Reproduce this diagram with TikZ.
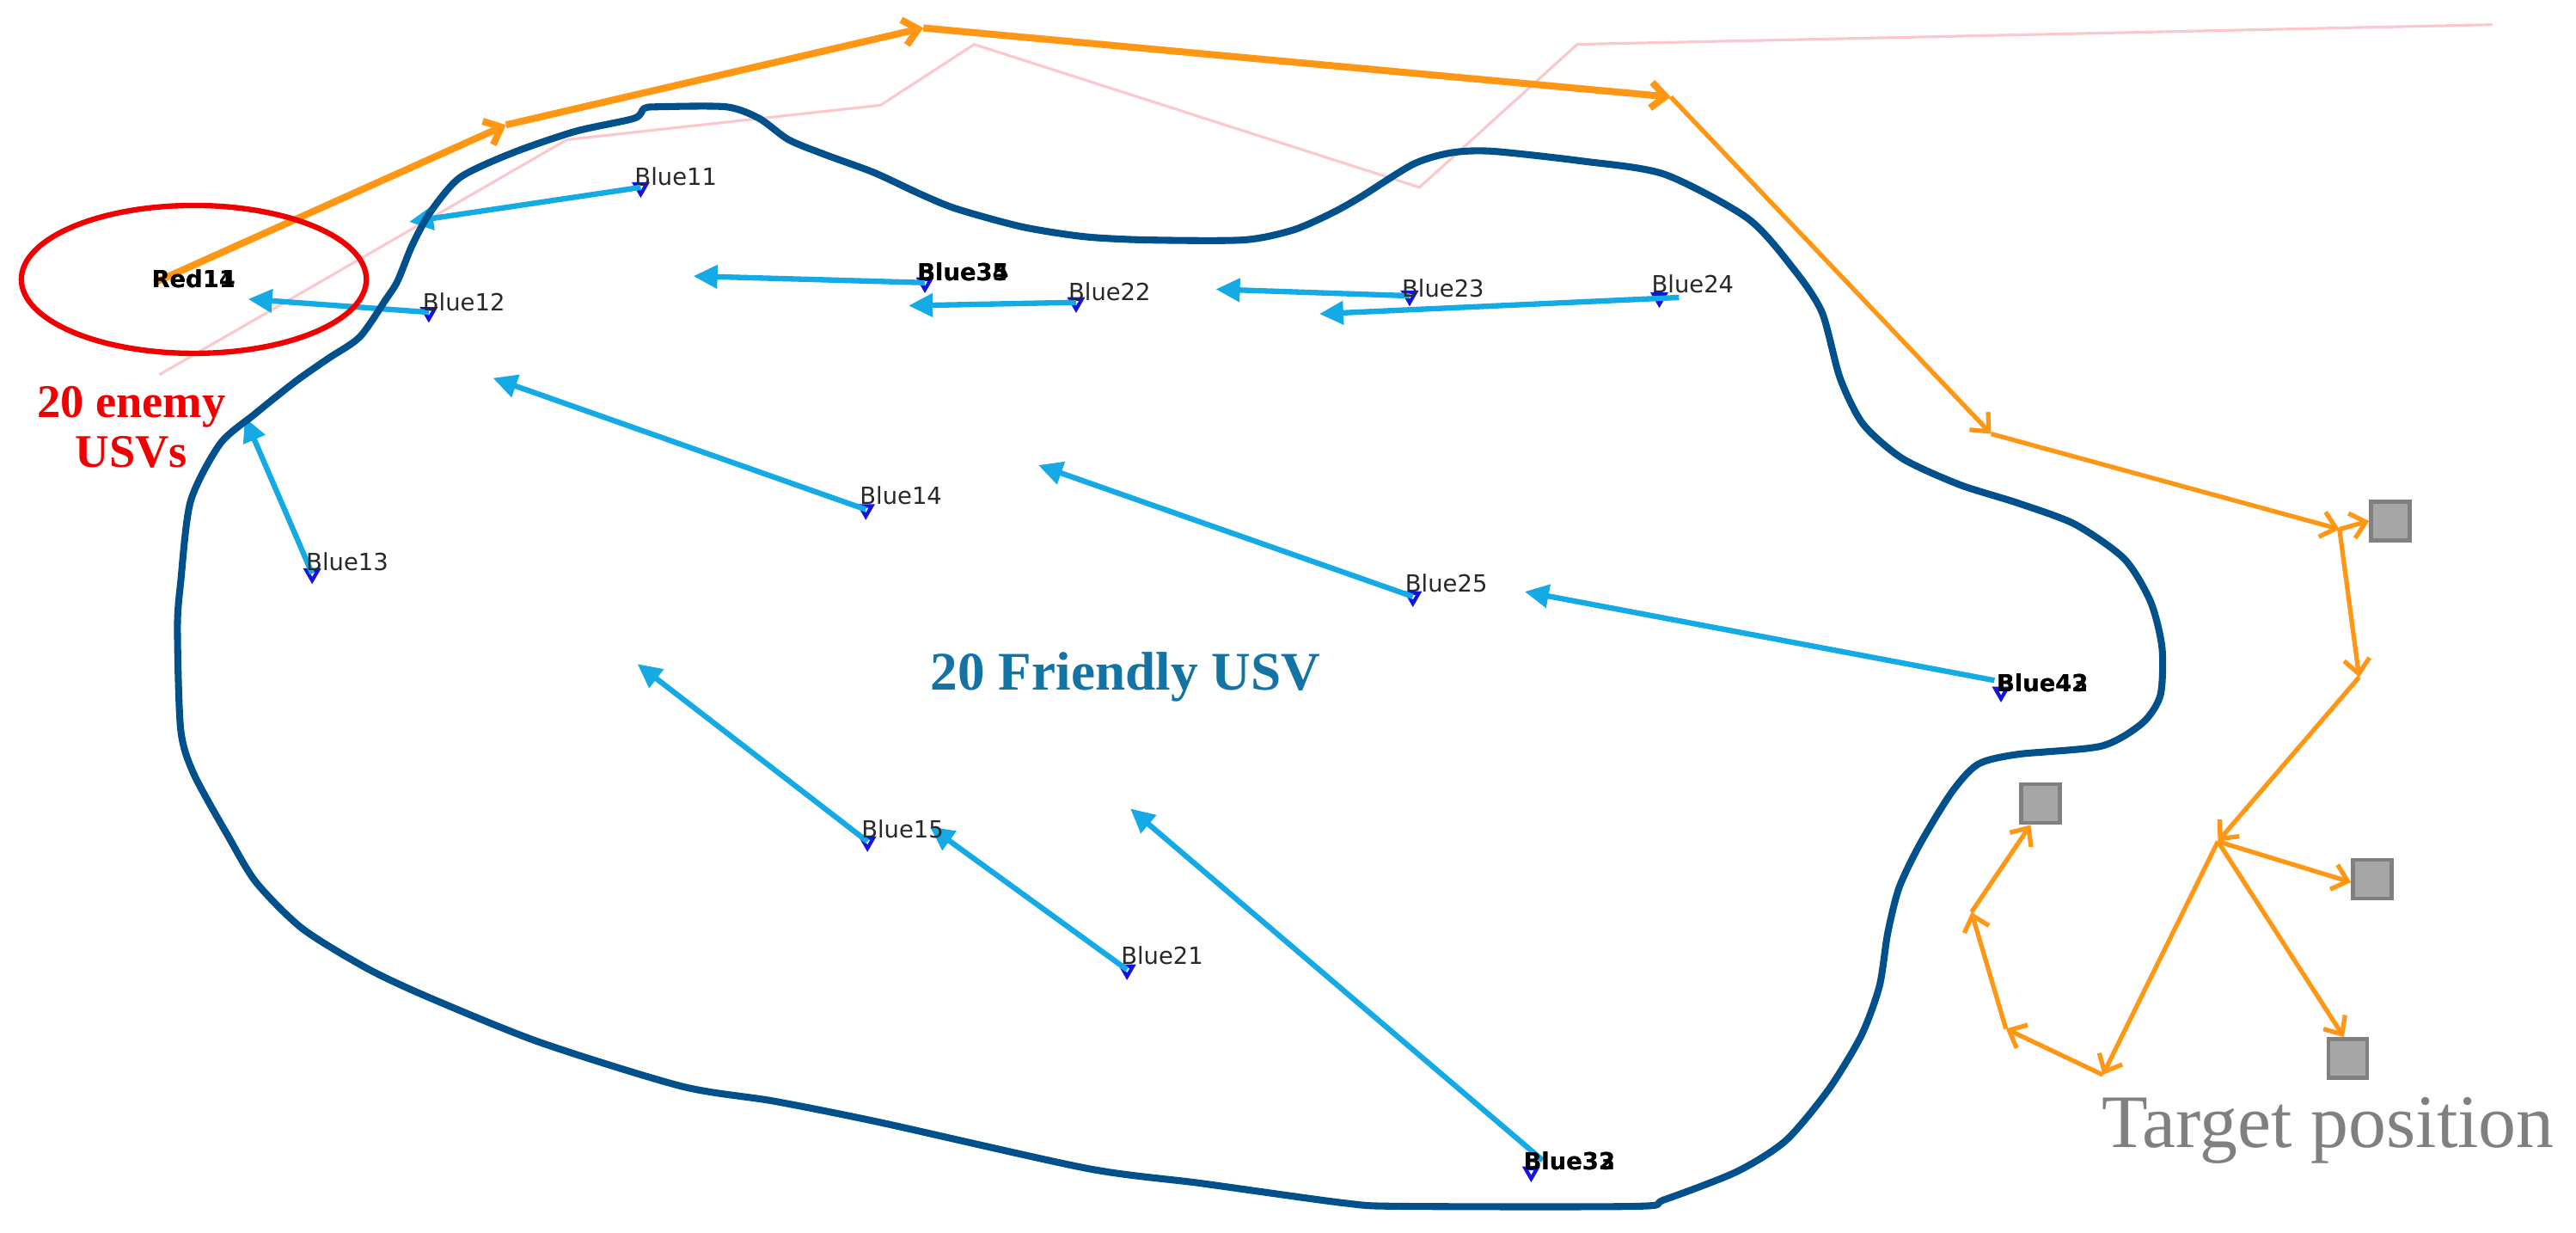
\documentclass[tikz,border=0pt]{standalone}
\usepackage{fontspec}
\setmainfont{Liberation Serif}
\newfontfamily\lblfont{DejaVu Sans}
\usetikzlibrary{arrows.meta,shapes.geometric,calc}
\definecolor{cdark}{RGB}{0,80,140}
\definecolor{cblue}{RGB}{20,170,230}
\definecolor{corange}{RGB}{255,150,20}
\definecolor{cpink}{RGB}{250,200,205}
\definecolor{cred}{RGB}{240,0,0}
\definecolor{cmark}{RGB}{20,20,220}
\definecolor{clabel}{RGB}{40,40,40}
\definecolor{csqfill}{RGB}{166,166,166}
\definecolor{csqdraw}{RGB}{128,128,128}
\definecolor{cfriend}{RGB}{20,115,165}
\definecolor{ctarget}{RGB}{128,128,128}
\tikzset{
 contour/.style={draw=cdark, line width=2.3pt, line join=round},
 barrow/.style={draw=cblue, line width=1.8pt, -{Triangle[length=8pt,width=7.5pt]}},
 oarrow/.style={draw=corange, line width=1.5pt, line join=round, -{Straight Barb[length=4.8pt,width=8.5pt]}},
 othick/.style={oarrow, line width=2.3pt},
 marker/.style={regular polygon, regular polygon sides=3, shape border rotate=180, draw=cmark, line width=1.2pt, inner sep=0pt, minimum size=0.16cm},
 lbl/.style={font=\lblfont\fontsize{7.8}{9}\selectfont, text=clabel, inner sep=0pt, anchor=base west},
 dlbl/.style={lbl, text=black, font=\lblfont\bfseries\fontsize{7.8}{9}\selectfont},
 target/.style={rectangle, fill=csqfill, draw=csqdraw, line width=1.3pt, minimum size=0.45cm, inner sep=0pt},
}
\begin{document}
\begin{tikzpicture}[x=0.019114cm,y=-0.019114cm]
\useasboundingbox (0,0) rectangle (1568,750);
\fill[white] (0,0) rectangle (1568,750);
% pink trajectory
\draw[cpink, line width=0.9pt, line join=round] (97,228) -- (345,85) -- (536,64) -- (593,27) -- (864,114) -- (960,27) -- (1517,15);
% orange route
\coordinate (o1) at (94,172);
\coordinate (o2) at (308,76);
\coordinate (o3) at (562,17);
\coordinate (o4) at (1017,59);
\coordinate (o5) at (1212,264);
\coordinate (o6) at (1424,322);
\coordinate (o7) at (1436,412);
\coordinate (o8) at (1350,512);
\coordinate (o9) at (1280,654);
\coordinate (o10) at (1221,626);
\coordinate (o11) at (1200,555);
\node[target] (s1) at (1455,317) {};
\node[target] (s2) at (1444,535) {};
\node[target] (s3) at (1429,644) {};
\node[target] (s4) at (1242,489) {};
\draw[othick] (o1) -- (o2);
\draw[othick] (o2) -- (o3);
\draw[othick] (o3) -- (o4);
\draw[oarrow] (o4) -- (o5);
\draw[oarrow] (o5) -- (o6);
\draw[oarrow] (o6) -- (s1.west);
\draw[oarrow] (o6) -- (o7);
\draw[oarrow] (o7) -- (o8);
\draw[oarrow] (o8) -- (s2.188);
\draw[oarrow] (o8) -- (s3.100);
\draw[oarrow] (o8) -- (o9);
\draw[oarrow] (o9) -- (o10);
\draw[oarrow] (o10) -- (o11);
\draw[oarrow] (o11) -- (s4.245);
% markers of friendly USVs
\node[marker] (m11) at (390,114) {};
\node[marker] (m12) at (261,190) {};
\node[marker] (m13) at (190,349) {};
\node[marker] (m14) at (527,310) {};
\node[marker] (m15) at (528,512) {};
\node[marker] (m21) at (686,590) {};
\node[marker] (m22) at (655,184) {};
\node[marker] (m23) at (858,180) {};
\node[marker] (m24) at (1010,181) {};
\node[marker] (m25) at (860,363) {};
\node[marker] (m34) at (563,172) {};
\node[marker] (m33) at (932,713) {};
\node[marker] (m43) at (1218,421) {};
% arrow heads
\coordinate (h11) at (249,135);
\coordinate (h12) at (151,182);
\coordinate (h13) at (149,254);
\coordinate (h14) at (300,230);
\coordinate (h15) at (388,404);
\coordinate (h21) at (566,503);
\coordinate (h22) at (553,186);
\coordinate (h23) at (740,176);
\coordinate (h24) at (803,191);
\coordinate (h25) at (632,283);
\coordinate (h34) at (422,168);
\coordinate (h33) at (688,492);
\coordinate (h43) at (928,360);
\coordinate (t24) at (1022,181);
\coordinate (t33) at (939,706);
\coordinate (t43) at (1214,414);
\draw[barrow] (m11.center) -- (h11);
\draw[barrow] (m12.center) -- (h12);
\draw[barrow] (m13.center) -- (h13);
\draw[barrow] (m14.center) -- (h14);
\draw[barrow] (m15.center) -- (h15);
\draw[barrow] (m21.center) -- (h21);
\draw[barrow] (m22.center) -- (h22);
\draw[barrow] (m23.center) -- (h23);
\draw[barrow] (t24) -- (h24);
\draw[barrow] (m25.center) -- (h25);
\draw[barrow] (m34.center) -- (h34);
\draw[barrow] (t33) -- (h33);
\draw[barrow] (t43) -- (h43);
% friendly area contour
\draw[contour] plot[smooth cycle, tension=0.45] coordinates {
(262,129) (280,108) (312,93) (350,80) (386,72) (392,66) (400,65) (442,65) (462,72) (480,85) (502,94) (532,105) (560,118) (582,127) (622,138) (660,144) (698,146) (757,146) (787,140) (810,130) (828,120) (860,100) (883,93) (908,92) (963,98) (1013,106) (1064,133) (1092,164) (1109,190) (1120,230) (1134,258) (1158,279) (1193,295) (1228,306) (1263,319) (1293,340) (1309,366) (1316,394) (1315,423) (1304,440) (1279,454) (1228,459) (1204,465) (1188,482) (1169,513) (1156,540) (1149,568) (1144,600) (1133,630) (1113,663) (1087,694) (1057,713) (1013,730) (996,734) (853,734) (818,732) (731,720) (662,711) (536,683) (471,670) (415,661) (328,634) (259,606) (223,589) (184,565) (156,537) (139,509) (118,471) (110,444) (108,382) (110,354) (116,305) (134,270) (155,252) (180,232) (200,218) (219,205) (235,182) (242,171) (251,149)};
% enemy ellipse
\node[draw=cred, line width=1.8pt, ellipse, minimum width=210*0.019114cm, minimum height=90*0.019114cm, inner sep=0pt] (enemy) at (118,170) {};
% labels
\node[lbl] (l11) at (386,113) {Blue11};
\node[lbl] (l12) at (257,189) {Blue12};
\node[lbl] (l13) at (186,347) {Blue13};
\node[lbl] (l14) at (523,307) {Blue14};
\node[lbl] (l15) at (524,510) {Blue15};
\node[lbl] (l21) at (682,587) {Blue21};
\node[lbl] (l22) at (650,183) {Blue22};
\node[lbl] (l23) at (853,181) {Blue23};
\node[lbl] (l24) at (1005,178) {Blue24};
\node[lbl] (l25) at (855,360) {Blue25};
\node[dlbl] (l34) at (558,171) {Blue34};
\node[dlbl] (l35) at (558,171) {Blue35};
\node[dlbl] (l32) at (927,712) {Blue32};
\node[dlbl] (l33) at (927,712) {Blue33};
\node[dlbl] (l42) at (1215,421) {Blue42};
\node[dlbl] (l43) at (1215,421) {Blue43};
\node[dlbl] (r11) at (92,175) {Red11};
\node[dlbl] (r14) at (92,175) {Red14};
% titles
\node[text=cred, font=\bfseries\fontsize{15.5}{16.5}\selectfont, align=center, inner sep=0pt] (enemytxt) at (80,260) {20 enemy\\USVs};
\node[text=cfriend, font=\bfseries\fontsize{18}{20}\selectfont, inner sep=0pt] (friendtxt) at (685,412) {20 Friendly USV};
\node[text=ctarget, font=\fontsize{25}{27}\selectfont, inner sep=0pt, anchor=base] (targettxt) at (1417,698) {Target position};
\end{tikzpicture}
\end{document}
